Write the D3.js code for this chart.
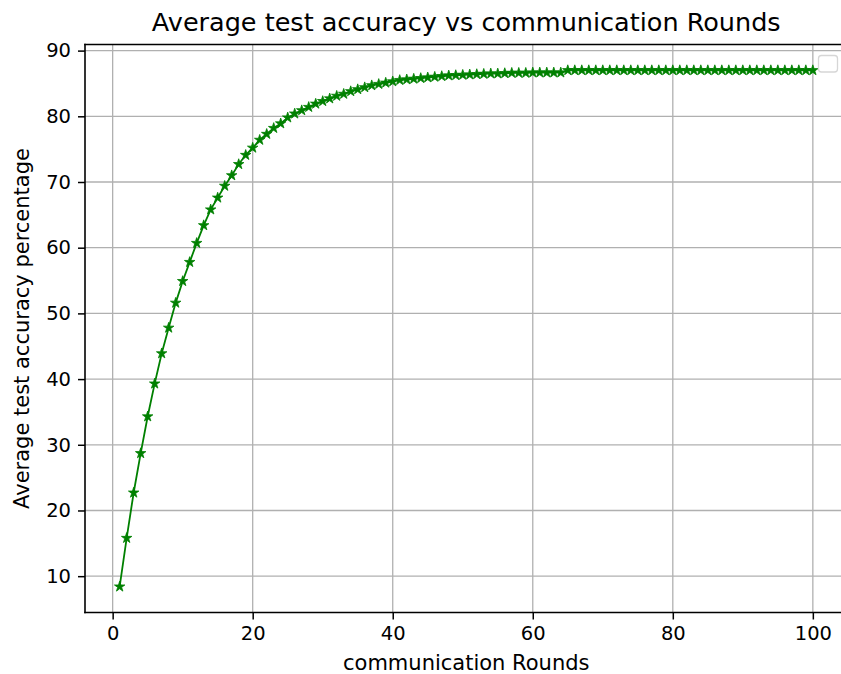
<!DOCTYPE html>
<html>
<head>
<meta charset="utf-8">
<script src="https://cdn.jsdelivr.net/npm/d3@7"></script>
<style>
  body { margin: 0; background: #fff; }
  svg { display: block; font-family: "DejaVu Sans", sans-serif; }
</style>
</head>
<body>
<svg id="chart" width="841" height="674"></svg>
<script>
const rounds = d3.range(1, 101);
const accuracy = [
  8.4, 15.8, 22.7, 28.7, 34.3, 39.3, 43.9, 47.8, 51.6, 54.9,
  57.8, 60.7, 63.4, 65.8, 67.6, 69.4, 71.0, 72.7, 74.1, 75.2,
  76.4, 77.3, 78.2, 78.9, 79.8, 80.4, 80.9, 81.4, 81.9, 82.3,
  82.7, 83.1, 83.4, 83.8, 84.1, 84.4, 84.7, 84.9, 85.1, 85.3,
  85.5, 85.6, 85.7, 85.8, 85.9, 86.0, 86.1, 86.2, 86.25, 86.3,
  86.35, 86.4, 86.45, 86.5, 86.5, 86.55, 86.6, 86.6, 86.6, 86.65,
  86.65, 86.65, 86.65, 86.65, 87.0, 87.0, 87.0, 87.0, 87.0, 87.0,
  87.0, 87.0, 87.0, 87.0, 87.0, 87.0, 87.0, 87.0, 87.0, 87.0,
  87.0, 87.0, 87.0, 87.0, 87.0, 87.0, 87.0, 87.0, 87.0, 87.0,
  87.0, 87.0, 87.0, 87.0, 87.0, 87.0, 87.0, 87.0, 87.0, 87.0
];
const xTicks = [0, 20, 40, 60, 80, 100];
const yTicks = [10, 20, 30, 40, 50, 60, 70, 80, 90];
const titleText = "Average test accuracy vs communication Rounds";
const xLabelText = "communication Rounds";
const yLabelText = "Average test accuracy percentage";

const svg = d3.select("#chart");
const pLeft = 85, pTop = 44.5, pRight = 847.5, pBottom = 612.5;

const xMin = 1, xMax = 100;
const xPad = (xMax - xMin) * 0.05;
const yMinD = d3.min(accuracy), yMaxD = d3.max(accuracy);
const yPad = (yMaxD - yMinD) * 0.05;

const x = d3.scaleLinear().domain([xMin - xPad, xMax + xPad]).range([pLeft, pRight]);
const y = d3.scaleLinear().domain([yMinD - yPad, yMaxD + yPad]).range([pBottom, pTop]);

// Grid
const grid = svg.append("g");
grid.selectAll(".gx").data(xTicks).enter().append("line")
  .attr("x1", d => x(d)).attr("x2", d => x(d))
  .attr("y1", pTop).attr("y2", pBottom)
  .attr("stroke", "#b0b0b0").attr("stroke-width", 1.3);
grid.selectAll(".gy").data(yTicks).enter().append("line")
  .attr("x1", pLeft).attr("x2", pRight)
  .attr("y1", d => y(d)).attr("y2", d => y(d))
  .attr("stroke", "#b0b0b0").attr("stroke-width", 1.3);

// Line
const line = d3.line().x((d, i) => x(rounds[i])).y(d => y(d));
svg.append("path").datum(accuracy)
  .attr("d", line)
  .attr("fill", "none")
  .attr("stroke", "#008000")
  .attr("stroke-width", 1.8);

// Star markers
const star = d3.symbol().type(d3.symbolStar).size(34);
svg.append("g").selectAll("path").data(accuracy).enter().append("path")
  .attr("d", star)
  .attr("transform", (d, i) => `translate(${x(rounds[i])},${y(d)})`)
  .attr("fill", "#008000")
  .attr("stroke", "#008000")
  .attr("stroke-width", 0.8);

// Axes
const xAxis = d3.axisBottom(x).tickValues(xTicks).tickSize(7).tickPadding(7).tickFormat(d3.format("d"));
const yAxis = d3.axisLeft(y).tickValues(yTicks).tickSize(7).tickPadding(7).tickFormat(d3.format("d"));

const gx = svg.append("g").attr("transform", `translate(0,${pBottom})`).call(xAxis);
const gy = svg.append("g").attr("transform", `translate(${pLeft},0)`).call(yAxis);
[gx, gy].forEach(g => {
  g.select(".domain").remove();
  g.selectAll(".tick line").attr("stroke", "#000").attr("stroke-width", 1.5);
  g.selectAll(".tick text").attr("fill", "#000").style("font-size", "19.5px")
    .style("font-family", "'DejaVu Sans', sans-serif");
});

// Spines
const spine = (x1, y1, x2, y2) => svg.append("line")
  .attr("x1", x1).attr("y1", y1).attr("x2", x2).attr("y2", y2)
  .attr("stroke", "#000").attr("stroke-width", 1.6).attr("stroke-linecap", "square");
spine(pLeft, pTop, pLeft, pBottom);
spine(pLeft, pBottom, pRight, pBottom);
spine(pLeft, pTop, pRight, pTop);

// Empty legend frame
svg.append("rect")
  .attr("x", 818.5).attr("y", 55.5).attr("width", 19).attr("height", 16.5)
  .attr("rx", 3).attr("ry", 3)
  .attr("fill", "#fff").attr("fill-opacity", 0.8)
  .attr("stroke", "#d6d6d6").attr("stroke-width", 1.3);

// Title and labels
svg.append("text").attr("x", (pLeft + pRight) / 2).attr("y", 31)
  .attr("text-anchor", "middle").style("font-size", "25.5px").attr("fill", "#000")
  .text(titleText);
svg.append("text").attr("x", (pLeft + pRight) / 2).attr("y", 670)
  .attr("text-anchor", "middle").style("font-size", "21px").attr("fill", "#000")
  .text(xLabelText);
svg.append("text")
  .attr("transform", `translate(28.5,${(pTop + pBottom) / 2}) rotate(-90)`)
  .attr("text-anchor", "middle").style("font-size", "21px").attr("fill", "#000")
  .text(yLabelText);
</script>
</body>
</html>
